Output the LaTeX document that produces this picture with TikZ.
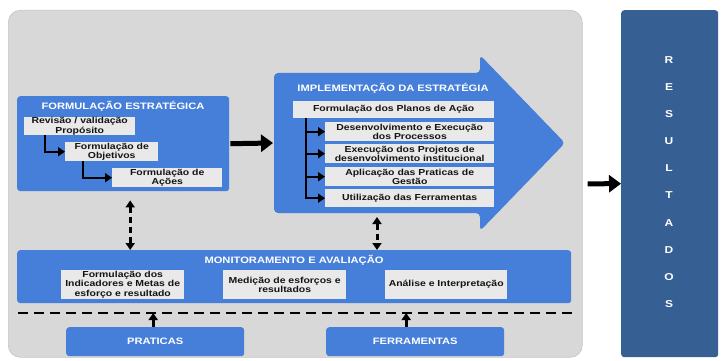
\documentclass[tikz,border=0pt]{standalone}
\usepackage{fontspec}
\newfontfamily\hv[FakeStretch=1.2]{Liberation Sans}
\usetikzlibrary{arrows.meta,calc}
\definecolor{bggray}{RGB}{216,216,216}
\definecolor{bgedge}{RGB}{196,196,196}
\definecolor{bblue}{RGB}{70,127,217}
\definecolor{dblue}{RGB}{54,96,148}
\definecolor{subgray}{RGB}{233,233,233}
\definecolor{txt}{RGB}{20,20,20}
\tikzset{
  panel/.style={fill=bblue, rounded corners=3pt, anchor=north west, inner sep=0pt},
  titletxt/.style={text=white, font=\hv\bfseries\fontsize{9.3}{11}\selectfont, inner sep=0pt},
  subbox/.style={fill=subgray, anchor=north west, inner sep=0pt, align=center, text=txt,
    font=\hv\bfseries\fontsize{8.7}{9.4}\selectfont},
  bigarr/.style={line width=5pt, -{Triangle[length=12pt,width=17pt]}},
  elb/.style={line width=2.2pt, -{Triangle[length=7pt,width=9pt]}},
  dda/.style={line width=3pt, dash pattern=on 6pt off 4pt,
    {Triangle[length=7pt,width=9pt]}-{Triangle[length=7pt,width=9pt]}},
  uparr/.style={line width=3pt, -{Triangle[length=7pt,width=9pt]}},
  letter/.style={text=white, font=\hv\bfseries\fontsize{10}{11}\selectfont, inner sep=0pt}
}
\begin{document}
\begin{tikzpicture}[x=1pt,y=-1pt]
\useasboundingbox (0,0) rectangle (721,361);
% background panel
\node[fill=bggray, draw=bgedge, line width=0.6pt, rounded corners=12pt, anchor=north west,
  minimum width=574pt, minimum height=347pt, inner sep=0pt] (bg) at (8,10) {};
% resultados
\node[fill=dblue, rounded corners=3pt, anchor=north west, minimum width=97pt,
  minimum height=347pt, inner sep=0pt] (res) at (621,10) {};
\foreach \l [count=\i from 0] in {R,E,S,U,L,T,A,D,O,S}
  \node[letter] (r\i) at (669,{60+27.1*\i}) {\l};
\draw[bigarr] ([xshift=5pt]bg.east) -- (res.west);

% formulacao estrategica
\node[panel, minimum width=212pt, minimum height=95pt] (fe) at (17,96) {};
\node[titletxt] (fet) at (123,106) {FORMULAÇÃO ESTRATÉGICA};
\node[subbox, minimum width=111pt, minimum height=18pt] (s1) at (24,117) {Revisão / validação\\Propósito};
\node[subbox, minimum width=93pt, minimum height=19pt] (s2) at (65,142) {Formulação de\\Objetivos};
\node[subbox, minimum width=110pt, minimum height=19pt] (s3) at (112,168) {Formulação de\\Ações};
\draw[elb] ([xshift=21pt]s1.south west) |- (s2.west);
\draw[elb] ([xshift=18pt]s2.south west) |- (s3.west);

% implementacao
\fill[bblue, rounded corners=4pt] (274,73) -- (480,73) -- (480,55) -- (565,143) -- (480,231)
  -- (480,213) -- (274,213) -- cycle;
\coordinate (implw) at (274,143);
\coordinate (implb) at (377,213);
\node[titletxt] (imt) at (393,88) {IMPLEMENTAÇÃO DA ESTRATÉGIA};
\node[subbox, minimum width=201pt, minimum height=17pt] (pl) at (293,101) {Formulação dos Planos de Ação};
\node[subbox, minimum width=169pt, minimum height=19pt] (d1) at (325,122) {Desenvolvimento e Execução\\dos Processos};
\node[subbox, minimum width=169pt, minimum height=19pt] (d2) at (325,144) {Execução dos Projetos de\\desenvolvimento institucional};
\node[subbox, minimum width=169pt, minimum height=19pt] (d3) at (325,167) {Aplicação das Praticas de\\Gestão};
\node[subbox, minimum width=169pt, minimum height=18pt] (d4) at (325,189) {Utilização das Ferramentas};
\coordinate (vtop) at ([xshift=13pt]pl.south west);
\draw[line width=2.2pt] (vtop) -- ([yshift=-1.1pt]vtop |- d4.west);
\foreach \d in {d1,d2,d3,d4}
  \draw[elb] (vtop |- \d.west) -- (\d.west);
\draw[bigarr] ([xshift=1pt]fe.east) -- ([xshift=-1pt]implw);

% monitoramento
\node[panel, minimum width=554pt, minimum height=53pt] (mon) at (17,250) {};
\node[titletxt] (mont) at (294,260) {MONITORAMENTO E AVALIAÇÃO};
\node[subbox, minimum width=123pt, minimum height=29pt] (m1) at (61,270) {Formulação dos\\Indicadores e Metas de\\esforço e resultado};
\node[subbox, minimum width=123pt, minimum height=29pt] (m2) at (223,270) {Medição de esforços e\\resultados};
\node[subbox, minimum width=122pt, minimum height=29pt] (m3) at (385,270) {Análise e Interpretação};

\draw[dda] ([xshift=7pt,yshift=-9pt]fe.south) -- ([xshift=7pt]fe.south |- mon.north);
\draw[dda] ([yshift=-4pt]implb) -- (implb |- mon.north);

% dashed separator
\coordinate (dl1) at (18,313);
\coordinate (dl2) at (575,313);
\draw[line width=2.5pt, dash pattern=on 10pt off 6pt] (dl1) -- (dl2);

% praticas / ferramentas
\node[panel, minimum width=178pt, minimum height=29pt] (pra) at (66,327) {};
\node[titletxt] (prat) at (pra.center) {PRATICAS};
\node[panel, minimum width=178pt, minimum height=29pt] (fer) at (326,327) {};
\node[titletxt] (fert) at (fer.center) {FERRAMENTAS};
\draw[uparr] ([xshift=-2pt]pra.north) -- ([xshift=-2pt]pra.north |- dl1);
\draw[uparr] ([xshift=-9pt]fer.north) -- ([xshift=-9pt]fer.north |- dl1);
\end{tikzpicture}
\end{document}
